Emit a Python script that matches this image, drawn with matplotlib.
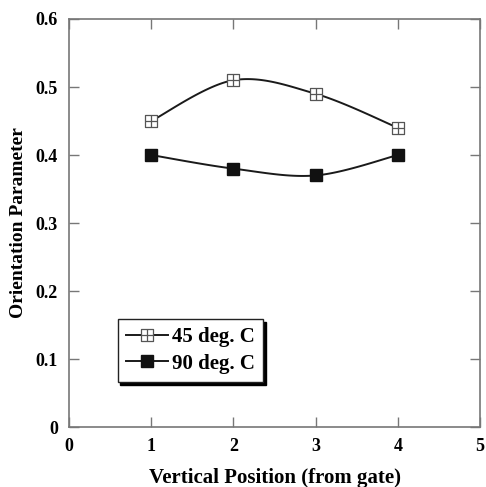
import numpy as np
import matplotlib.pyplot as plt
from matplotlib.path import Path

positions = [1, 2, 3, 4]
op_45 = [0.45, 0.51, 0.49, 0.44]
op_90 = [0.40, 0.38, 0.37, 0.40]
labels = ["45 deg. C", "90 deg. C"]

plt.rcParams["font.family"] = ["Liberation Serif", "DejaVu Serif"]
plt.rcParams["font.weight"] = "bold"


def smooth(x, y, n=40):
    # Catmull-Rom style smoothing like spreadsheet "smoothed line"
    x = np.asarray(x, float)
    y = np.asarray(y, float)
    px = np.concatenate([[x[0]], x, [x[-1]]])
    py = np.concatenate([[y[0]], y, [y[-1]]])
    xs, ys = [], []
    t = np.linspace(0, 1, n)
    for i in range(1, len(px) - 2):
        p0, p1, p2, p3 = (np.array([px[j], py[j]]) for j in (i - 1, i, i + 1, i + 2))
        c1 = p1 + (p2 - p0) / 6
        c2 = p2 - (p3 - p1) / 6
        pts = ((1 - t) ** 3)[:, None] * p1 + (3 * (1 - t) ** 2 * t)[:, None] * c1 \
            + (3 * (1 - t) * t ** 2)[:, None] * c2 + (t ** 3)[:, None] * p2
        xs.extend(pts[:, 0])
        ys.extend(pts[:, 1])
    return np.array(xs), np.array(ys)


# square with a cross inside
box_plus = Path(
    [(-1, -1), (1, -1), (1, 1), (-1, 1), (-1, -1), (0, -1), (0, 1), (-1, 0), (1, 0)],
    [Path.MOVETO, Path.LINETO, Path.LINETO, Path.LINETO, Path.CLOSEPOLY,
     Path.MOVETO, Path.LINETO, Path.MOVETO, Path.LINETO],
)

fig = plt.figure(figsize=(4.86, 4.87), dpi=100)
ax = fig.add_axes([0.142, 0.123, 0.846, 0.838])

for y, marker in [(op_45, box_plus), (op_90, "s")]:
    sx, sy = smooth(positions, y)
    ax.plot(sx, sy, color="#1a1a1a", lw=1.4, zorder=2)
    if marker == "s":
        ax.plot(positions, y, ls="none", marker="s", ms=8.5, color="#111111", zorder=3)
    else:
        ax.plot(positions, y, ls="none", marker=marker, ms=8.5, mfc="white",
                mec="#555555", mew=0.9, zorder=3)

# legend handles
h1, = ax.plot([], [], color="#1a1a1a", lw=1.4, marker=box_plus, ms=8.5, mfc="white",
              mec="#555555", mew=0.9)
h2, = ax.plot([], [], color="#1a1a1a", lw=1.4, marker="s", ms=8.5,
              mfc="#111111", mec="#111111")
leg = ax.legend([h1, h2], labels, loc="lower left", bbox_to_anchor=(0.093, 0.085),
                fancybox=False, shadow={"color": "black", "alpha": 1}, framealpha=1,
                edgecolor="#222222",
                prop={"family": "Liberation Serif", "weight": "bold", "size": 15},
                handlelength=2.0, handletextpad=0.2, borderpad=0.4, labelspacing=0.3)
leg.get_frame().set_linewidth(1.0)

ax.set_xlim(0, 5)
ax.set_ylim(0, 0.6)
ax.set_xticks(range(0, 6))
ax.set_yticks(np.arange(0, 0.61, 0.1))
ax.set_xticklabels([str(i) for i in range(6)])
ax.set_yticklabels(["0", "0.1", "0.2", "0.3", "0.4", "0.5", "0.6"])
ax.tick_params(direction="in", length=7, width=1, color="#777777", labelsize=13,
               top=True, right=True, pad=8)
for s in ax.spines.values():
    s.set_color("#777777")
    s.set_linewidth(1.2)

ax.set_xlabel("Vertical Position (from gate)", fontsize=15, fontweight="bold", labelpad=9)
ax.set_ylabel("Orientation Parameter", fontsize=14, fontweight="bold", labelpad=6)

fig.savefig("out.png", dpi=100)
